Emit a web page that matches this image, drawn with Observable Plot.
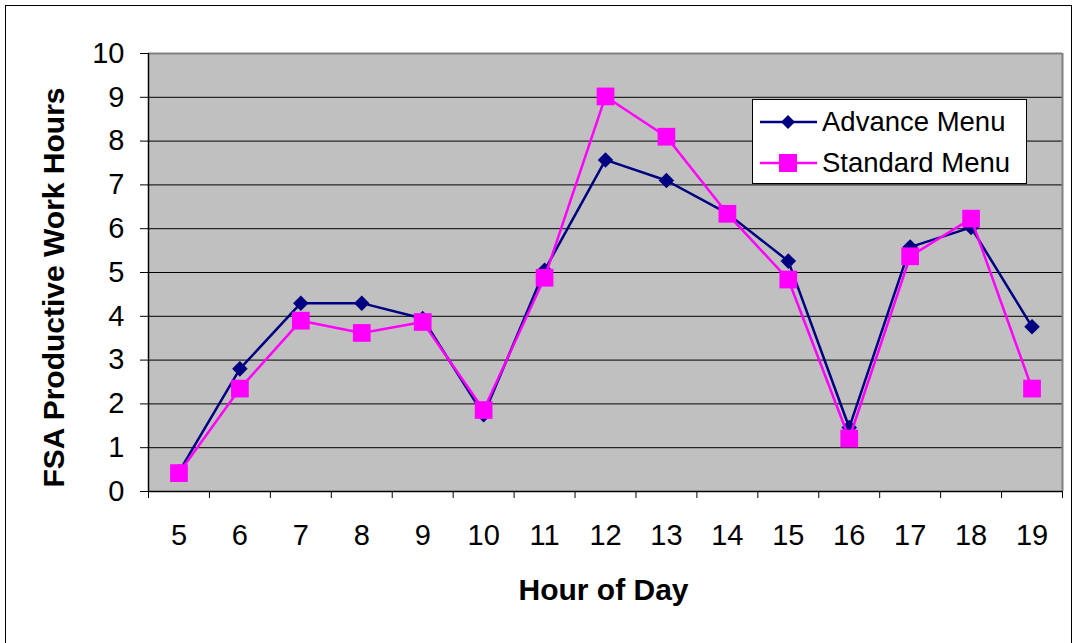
<!DOCTYPE html>
<html>
<head>
<meta charset="utf-8">
<script src="https://cdn.jsdelivr.net/npm/d3@7"></script>
<script src="https://cdn.jsdelivr.net/npm/@observablehq/plot@0.6"></script>
<style>
  html, body { margin: 0; padding: 0; background: #fff; }
  #wrap { position: relative; width: 1075px; height: 643px; overflow: hidden; font-family: "Liberation Sans", Arial, sans-serif; }
  #border { position: absolute; left: 5px; top: 5px; width: 1067px; height: 660px; border: 1px solid #000; box-sizing: border-box; }
  #chart { position: absolute; left: 0; top: 0; }
  #legend { position: absolute; left: 752px; top: 99px; width: 275px; height: 85px; background: #fff; border: 1px solid #000; box-sizing: border-box; }
  .item { position: absolute; left: 0; height: 40px; display: flex; align-items: center; font-size: 27.5px; color: #000; white-space: nowrap; }
  .item svg { margin-left: 7px; margin-right: 5px; }
</style>
</head>
<body>
<div id="wrap">
  <div id="border"></div>
  <div id="chart"></div>
  <div id="legend"></div>
</div>
<script>
const hours = [5, 6, 7, 8, 9, 10, 11, 12, 13, 14, 15, 16, 17, 18, 19];
const advanceMenu = [0.45, 2.8, 4.3, 4.3, 3.95, 1.75, 5.05, 7.57, 7.1, 6.35, 5.26, 1.46, 5.58, 6.03, 3.76];
const standardMenu = [0.42, 2.35, 3.9, 3.62, 3.87, 1.86, 4.88, 9.02, 8.1, 6.34, 4.84, 1.21, 5.37, 6.23, 2.35];
const yTicks = [0, 1, 2, 3, 4, 5, 6, 7, 8, 9, 10];
const seriesNames = ["Advance Menu", "Standard Menu"];
const seriesColors = ["#000080", "#FF00FF"];
const yLabel = "FSA Productive Work Hours";
const xLabel = "Hour of Day";

const adv = hours.map((h, i) => ({hour: h, value: advanceMenu[i]}));
const std = hours.map((h, i) => ({hour: h, value: standardMenu[i]}));
const xMin = d3.min(hours) - 0.5, xMax = d3.max(hours) + 0.5;
const boundaries = d3.range(xMin, xMax + 0.01, 1);
const yMax = d3.max(yTicks);
const grid = yTicks.filter(t => t > 0 && t < yMax);

const chart = Plot.plot({
  width: 1075,
  height: 643,
  marginLeft: 148,
  marginRight: 13,
  marginTop: 53,
  marginBottom: 152,
  style: {fontFamily: "'Liberation Sans', Arial, sans-serif", color: "#000", background: "transparent"},
  x: {type: "linear", domain: [xMin, xMax]},
  y: {domain: [0, yMax]},
  marks: [
    Plot.frame({fill: "#C0C0C0"}),
    Plot.ruleY(grid, {stroke: "#000", strokeWidth: 1}),
    Plot.ruleY([yMax], {stroke: "#808080", strokeWidth: 2}),
    Plot.ruleX([xMax], {stroke: "#808080", strokeWidth: 2}),
    Plot.ruleY([0], {stroke: "#000", strokeWidth: 1.5}),
    Plot.ruleX([xMin], {stroke: "#000", strokeWidth: 1.5}),
    Plot.axisY({ticks: yTicks, tickSize: 8, tickPadding: 16, fontSize: 29, label: null, stroke: "#000"}),
    Plot.axisX({ticks: hours, tickSize: 0, tickPadding: 33, fontSize: 29, label: null, tickFormat: d => String(d)}),
    Plot.axisX({ticks: boundaries, tickSize: 7, tickFormat: () => "", label: null, stroke: "#000"}),
    Plot.line(adv, {x: "hour", y: "value", stroke: seriesColors[0], strokeWidth: 2.5}),
    Plot.dot(adv, {x: "hour", y: "value", symbol: "diamond2", r: 7, fill: seriesColors[0], stroke: "none"}),
    Plot.line(std, {x: "hour", y: "value", stroke: seriesColors[1], strokeWidth: 2.5}),
    Plot.dot(std, {x: "hour", y: "value", symbol: "square", r: 10, fill: seriesColors[1], stroke: "none"}),
    Plot.text([yLabel], {frameAnchor: "left", textAnchor: "middle", lineAnchor: "middle", dx: -94, dy: 15, rotate: -90, fontSize: 30, fontWeight: "bold", fill: "#000"}),
    Plot.text([xLabel], {frameAnchor: "bottom", textAnchor: "middle", lineAnchor: "middle", dx: -2, dy: 99, fontSize: 30, fontWeight: "bold", fill: "#000"})
  ]
});
document.getElementById("chart").appendChild(chart);

// Legend
const legend = document.getElementById("legend");
const rowTops = [2, 43];
seriesNames.forEach((name, i) => {
  const row = document.createElement("div");
  row.className = "item";
  row.style.top = rowTops[i] + "px";
  const marker = i === 0
    ? `<path d="M28,11 L35,18 L28,25 L21,18 Z" fill="${seriesColors[i]}"/>`
    : `<rect x="19" y="9" width="18" height="18" fill="${seriesColors[i]}"/>`;
  row.innerHTML = `<svg width="57" height="36"><line x1="0" y1="18" x2="57" y2="18" stroke="${seriesColors[i]}" stroke-width="2.5"/>${marker}</svg><span>${name}</span>`;
  legend.appendChild(row);
});
</script>
</body>
</html>
